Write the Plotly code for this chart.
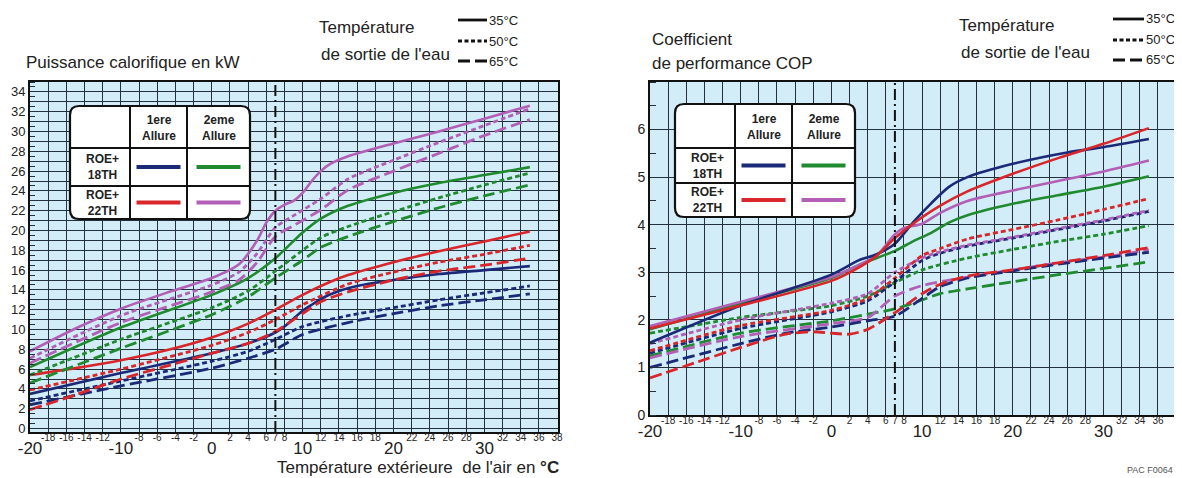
import plotly.graph_objects as go

SCREEN_W, SCREEN_H = 1182, 478
OFF = 8  # default page body margin: figure is drawn 8px from the top-left corner
FW, FH = SCREEN_W - OFF, SCREEN_H - OFF
FONT = "Liberation Sans, Arial, sans-serif"

# ---------------- DATA ----------------
# Left chart : Puissance calorifique (kW) vs outside air temperature
# navy = ROE+18TH 1ere allure, green = ROE+18TH 2eme, red = ROE+22TH 1ere, purple = ROE+22TH 2eme
# 35 = solid, 50 = dotted, 65 = dashed (water outlet temperature)
PUI_N35_X = [-20, -10, 0, 4, 7, 8, 9, 10, 11, 12, 14, 16, 20, 25, 30, 35]
PUI_N35_Y = [3.5, 5.6, 7.6, 8.6, 9.7, 10.3, 11.1, 11.9, 12.5, 13.1, 13.9, 14.4, 15.0, 15.6, 16.0, 16.4]
PUI_N50_X = [-20, -10, 0, 4, 7, 10, 15, 20, 25, 30, 35]
PUI_N50_Y = [2.8, 4.8, 6.8, 7.8, 9.0, 10.3, 11.4, 12.2, 13.0, 13.7, 14.4]
PUI_N65_X = [-20, -10, 0, 4, 7, 10, 15, 20, 25, 30, 35]
PUI_N65_Y = [2.4, 4.3, 6.1, 7.1, 8.0, 9.5, 10.7, 11.6, 12.4, 13.0, 13.6]

PUI_R35_X = [-20, -15, -10, -5, 0, 4, 7, 10, 13, 15, 20, 25, 30, 35]
PUI_R35_Y = [5.4, 6.1, 6.9, 7.9, 9.2, 10.6, 12.0, 13.5, 14.8, 15.5, 16.8, 17.9, 18.9, 19.9]
PUI_R50_X = [-20, -10, 0, 4, 7, 10, 15, 20, 25, 30, 35]
PUI_R50_Y = [3.9, 6.0, 8.4, 9.7, 11.0, 12.5, 14.6, 15.8, 16.8, 17.6, 18.5]
PUI_R65_X = [-20, -15, -10, -5, 0, 4, 7, 10, 12, 15, 20, 25, 30, 35]
PUI_R65_Y = [1.9, 3.4, 5.0, 6.3, 7.6, 8.6, 9.8, 11.6, 12.8, 13.8, 15.0, 15.9, 16.5, 17.2]

PUI_G35_X = [-20, -10, 0, 4, 7, 10, 12, 15, 20, 25, 30, 35]
PUI_G35_Y = [6.2, 10.2, 13.5, 15.2, 17.2, 19.8, 21.2, 22.5, 23.8, 24.8, 25.6, 26.4]
PUI_G50_X = [-20, -10, 0, 4, 7, 10, 12, 15, 20, 25, 30, 35]
PUI_G50_Y = [5.4, 9.0, 12.2, 13.9, 15.9, 18.0, 19.3, 20.4, 21.9, 23.3, 24.6, 25.8]
PUI_G65_X = [-20, -10, 0, 4, 7, 10, 12, 15, 20, 25, 30, 35]
PUI_G65_Y = [4.6, 8.1, 11.5, 13.3, 15.2, 17.0, 18.3, 19.4, 20.9, 22.3, 23.5, 24.6]

PUI_P35_X = [-20, -15, -10, -5, 0, 3, 5, 6, 7, 8, 9, 10, 11, 12, 13, 15, 20, 25, 30, 35]
PUI_P35_Y = [7.8, 10.1, 12.1, 13.7, 15.2, 16.6, 19.0, 20.8, 22.0, 22.6, 23.0, 23.8, 25.0, 26.0, 26.7, 27.5, 28.8, 30.0, 31.3, 32.6]
PUI_P50_X = [-20, -10, 0, 3, 5, 7, 9, 12, 15, 20, 25, 30, 35]
PUI_P50_Y = [7.1, 11.4, 14.5, 15.8, 17.7, 20.3, 21.5, 23.2, 25.2, 27.1, 28.9, 30.6, 32.3]
PUI_P65_X = [-20, -10, 0, 3, 5, 7, 9, 12, 15, 20, 25, 30, 35]
PUI_P65_Y = [6.6, 10.7, 13.8, 15.0, 16.8, 19.4, 20.5, 22.1, 24.1, 26.0, 27.8, 29.6, 31.2]

# Right chart : COP
COP_N35_X = [-20, -10, 0, 3, 5, 7, 9, 11, 13, 15, 20, 26, 30, 35]
COP_N35_Y = [1.52, 2.3, 2.95, 3.25, 3.38, 3.6, 4.05, 4.45, 4.8, 5.0, 5.28, 5.52, 5.63, 5.8]
COP_N50_X = [-20, -10, 0, 4, 7, 10, 12, 15, 20, 25, 30, 35]
COP_N50_Y = [1.3, 1.82, 2.17, 2.4, 2.8, 3.25, 3.4, 3.55, 3.72, 3.9, 4.08, 4.28]
COP_N65_X = [-20, -10, -5, 0, 4, 7, 10, 12, 15, 20, 25, 30, 35]
COP_N65_Y = [1.0, 1.5, 1.72, 1.85, 1.98, 2.08, 2.45, 2.7, 2.88, 3.03, 3.17, 3.3, 3.42]

COP_R35_X = [-20, -10, 0, 3, 5, 7, 9, 12, 15, 20, 25, 30, 35]
COP_R35_Y = [1.82, 2.3, 2.82, 3.1, 3.35, 3.72, 4.02, 4.4, 4.7, 5.07, 5.4, 5.7, 6.03]
COP_R50_X = [-20, -10, 0, 4, 7, 10, 12, 15, 20, 25, 30, 35]
COP_R50_Y = [1.35, 1.88, 2.2, 2.45, 2.88, 3.35, 3.5, 3.7, 3.9, 4.1, 4.32, 4.55]
COP_R65_X = [-20, -15, -10, -5, -2, 0, 2, 4, 7, 10, 12, 15, 20, 25, 30, 35]
COP_R65_Y = [0.78, 1.1, 1.42, 1.7, 1.75, 1.72, 1.7, 1.8, 2.15, 2.55, 2.75, 2.92, 3.05, 3.2, 3.35, 3.52]

COP_G35_X = [-20, -10, 0, 3, 5, 7, 9, 11, 13, 15, 20, 25, 30, 35]
COP_G35_Y = [1.8, 2.35, 2.88, 3.15, 3.3, 3.45, 3.65, 3.83, 4.05, 4.2, 4.44, 4.62, 4.8, 5.02]
COP_G50_X = [-20, -10, 0, 4, 7, 10, 15, 20, 25, 30, 35]
COP_G50_Y = [1.72, 2.05, 2.3, 2.5, 2.78, 3.05, 3.3, 3.48, 3.65, 3.8, 3.98]
COP_G65_X = [-20, -10, 0, 4, 7, 10, 12, 15, 20, 25, 30, 35]
COP_G65_Y = [1.24, 1.72, 1.98, 2.12, 2.23, 2.42, 2.55, 2.65, 2.8, 2.95, 3.08, 3.22]

COP_P35_X = [-20, -10, 0, 3, 5, 7, 8, 10, 12, 15, 20, 25, 30, 35]
COP_P35_Y = [1.87, 2.38, 2.9, 3.15, 3.35, 3.8, 3.93, 4.02, 4.25, 4.5, 4.72, 4.92, 5.12, 5.35]
COP_P50_X = [-20, -10, 0, 4, 7, 10, 12, 15, 20, 25, 30, 35]
COP_P50_Y = [1.5, 2.0, 2.35, 2.55, 3.0, 3.3, 3.43, 3.57, 3.74, 3.92, 4.1, 4.3]
COP_P65_X = [-20, -10, 0, 4, 7, 10, 15, 20, 25, 30, 35]
COP_P65_Y = [1.2, 1.65, 1.92, 2.05, 2.5, 2.72, 2.9, 3.05, 3.2, 3.32, 3.47]

# Axes / ticks
X_RANGE = [-20, 38.1]
X_GRID = list(range(-20, 40, 2))
X_MAJOR_VALS = [-20, -10, 0, 10, 20, 30]
X_MAJOR_TEXT = ["-20", "-10", "0", "10", "20", "30"]
X_MINOR_VALS = [-18, -16, -14, -12, -8, -6, -4, -2, 2, 4, 6, 7, 8, 12, 14, 16, 18,
                22, 24, 26, 28, 32, 34, 36, 38]
X_MINOR_TEXT = ["-18", "-16", "-14", "-12", "-8", "-6", "-4", "-2", "2", "4", "6", "7", "8",
                "12", "14", "16", "18", "22", "24", "26", "28", "32", "34", "36", "38"]
Y_LEFT_RANGE = [-0.35, 35]
Y_LEFT_GRID = list(range(0, 35))
Y_LEFT_LABELS = [0, 2, 4, 6, 8, 10, 12, 14, 16, 18, 20, 22, 24, 26, 28, 30, 32, 34]
Y_RIGHT_RANGE = [0, 7]
Y_RIGHT_LABELS = [0, 1, 2, 3, 4, 5, 6]
REF_TEMP = 7  # dash-dot reference line

NAVY, GREEN, RED, PURPLE = "#1b2a78", "#1f8a2e", "#d8262b", "#b35fb5"
BG = "#d2ecf8"
GRID = "#23313f"
DASH35, DASH50, DASH65 = "solid", "5px,3px", "12px,5px"

# ---------------- FIGURE ----------------
fig = go.Figure()


def curve(xs, ys, color, dash, xa, ya):
    fig.add_trace(go.Scatter(
        x=xs, y=ys, mode="lines", xaxis=xa, yaxis=ya, showlegend=False, hoverinfo="skip",
        line=dict(color=color, width=2.6 if dash == DASH35 else 2.8, dash=dash,
                  shape="spline", smoothing=0.7)))


left = [
    (PUI_N65_X, PUI_N65_Y, NAVY, DASH65), (PUI_N50_X, PUI_N50_Y, NAVY, DASH50), (PUI_N35_X, PUI_N35_Y, NAVY, DASH35),
    (PUI_R65_X, PUI_R65_Y, RED, DASH65), (PUI_R50_X, PUI_R50_Y, RED, DASH50), (PUI_R35_X, PUI_R35_Y, RED, DASH35),
    (PUI_G65_X, PUI_G65_Y, GREEN, DASH65), (PUI_G50_X, PUI_G50_Y, GREEN, DASH50), (PUI_G35_X, PUI_G35_Y, GREEN, DASH35),
    (PUI_P65_X, PUI_P65_Y, PURPLE, DASH65), (PUI_P50_X, PUI_P50_Y, PURPLE, DASH50), (PUI_P35_X, PUI_P35_Y, PURPLE, DASH35),
]
right = [
    (COP_G65_X, COP_G65_Y, GREEN, DASH65), (COP_P65_X, COP_P65_Y, PURPLE, DASH65),
    (COP_N65_X, COP_N65_Y, NAVY, DASH65), (COP_R65_X, COP_R65_Y, RED, DASH65),
    (COP_G50_X, COP_G50_Y, GREEN, DASH50), (COP_N50_X, COP_N50_Y, NAVY, DASH50),
    (COP_P50_X, COP_P50_Y, PURPLE, DASH50), (COP_R50_X, COP_R50_Y, RED, DASH50),
    (COP_G35_X, COP_G35_Y, GREEN, DASH35), (COP_P35_X, COP_P35_Y, PURPLE, DASH35),
    (COP_N35_X, COP_N35_Y, NAVY, DASH35), (COP_R35_X, COP_R35_Y, RED, DASH35),
]
for xs, ys, c, d in left:
    curve(xs, ys, c, d, "x", "y")
for xs, ys, c, d in right:
    curve(xs, ys, c, d, "x2", "y2")

# dummy traces so the overlay label axes are drawn
for xa, ya in [("x3", "y"), ("x5", "y"), ("x4", "y2"), ("x6", "y2")]:
    fig.add_trace(go.Scatter(x=[0], y=[None], xaxis=xa, yaxis=ya, mode="markers",
                             marker=dict(opacity=0), showlegend=False, hoverinfo="skip"))


def px(x):
    return (x - OFF) / FW


def py(y):
    return 1 - (y - OFF) / FH


# plot area boxes (screen pixels)
L_BOX = (30, 82, 558, 432)
R_BOX = (650, 82, 1177, 415)

grid_x = dict(range=X_RANGE, tickvals=X_GRID, showticklabels=False, showgrid=True,
              gridcolor=GRID, gridwidth=1.3, zeroline=False, showline=True, linecolor="#111",
              linewidth=2, mirror=True, ticks="", automargin=False)


def minor_axis(over, anchor):
    return dict(overlaying=over, anchor=anchor, side="bottom", range=X_RANGE,
                tickvals=X_MINOR_VALS, ticktext=X_MINOR_TEXT, showgrid=False, zeroline=False,
                showline=False, ticks="", tickfont=dict(family=FONT, size=10, color="#222"),
                ticklabelstandoff=-2, automargin=False)


def major_axis(over, anchor):
    return dict(overlaying=over, anchor=anchor, side="bottom", range=X_RANGE,
                tickvals=X_MAJOR_VALS, ticktext=X_MAJOR_TEXT, showgrid=False, zeroline=False,
                showline=False, ticks="", tickfont=dict(family=FONT, size=17, color="#222"),
                ticklabelstandoff=4, automargin=False)


fig.update_layout(
    width=FW, height=FH, autosize=False, margin=dict(l=0, r=0, t=0, b=0, pad=0),
    paper_bgcolor="white", plot_bgcolor=BG, font=dict(family=FONT, color="#222"),
    xaxis=dict(domain=[px(L_BOX[0]), px(L_BOX[2])], anchor="y", **grid_x),
    xaxis2=dict(domain=[px(R_BOX[0]), px(R_BOX[2])], anchor="y2", **grid_x),
    xaxis3=minor_axis("x", "y"),
    xaxis5=major_axis("x", "y"),
    xaxis4=minor_axis("x2", "y2"),
    xaxis6=major_axis("x2", "y2"),
    yaxis=dict(domain=[py(L_BOX[3]), py(L_BOX[1])], anchor="x", range=Y_LEFT_RANGE,
               tickvals=Y_LEFT_GRID,
               ticktext=[str(v) if v in Y_LEFT_LABELS else "" for v in Y_LEFT_GRID],
               showgrid=True, gridcolor=GRID, gridwidth=1.3, zeroline=False,
               showline=True, linecolor="#111", linewidth=2, mirror=True, automargin=False,
               ticks="", tickfont=dict(family=FONT, size=13, color="#222"),
               minor=dict(dtick=0.5, ticks="inside", ticklen=5, tickcolor=GRID, showgrid=False)),
    yaxis2=dict(domain=[py(R_BOX[3]), py(R_BOX[1])], anchor="x2", range=Y_RIGHT_RANGE,
                tickvals=Y_RIGHT_LABELS, ticktext=[str(v) for v in Y_RIGHT_LABELS],
                showgrid=True, gridcolor=GRID, gridwidth=1.3, zeroline=False,
                showline=True, linecolor="#111", linewidth=2, mirror=True, automargin=False,
                ticks="", tickfont=dict(family=FONT, size=14, color="#222"),
                minor=dict(dtick=0.5, ticks="inside", ticklen=6, tickcolor=GRID, showgrid=False)),
)

shapes = []
annotations = []

# reference dash-dot line
for xr, yr in [("x", "y domain"), ("x2", "y2 domain")]:
    shapes.append(dict(type="line", xref=xr, yref=yr, x0=REF_TEMP, x1=REF_TEMP, y0=0, y1=1,
                       line=dict(color="#111", width=2, dash="11px,4px,2px,4px")))


def P(x, y):
    return f"{px(x):.5f},{py(y):.5f}"


def rrect(x0, y0, x1, y1, r):
    return (f"M {P(x0 + r, y0)} L {P(x1 - r, y0)} Q {P(x1, y0)} {P(x1, y0 + r)} "
            f"L {P(x1, y1 - r)} Q {P(x1, y1)} {P(x1 - r, y1)} L {P(x0 + r, y1)} "
            f"Q {P(x0, y1)} {P(x0, y1 - r)} L {P(x0, y0 + r)} Q {P(x0, y0)} {P(x0 + r, y0)} Z")


def text(x, y, s, size, anchor="left", bold=False, color="#222"):
    annotations.append(dict(xref="paper", yref="paper", x=px(x), y=py(y), text=f"<b>{s}</b>" if bold else s,
                            showarrow=False, xanchor=anchor, yanchor="middle", borderpad=0,
                            font=dict(family=FONT, size=size, color=color)))


def table(x0, y0, c1, c2, x1, r1, r2, y1):
    shapes.append(dict(type="path", xref="paper", yref="paper", path=rrect(x0, y0, x1, y1, 9),
                       fillcolor="white", line=dict(color="#111", width=2.2), layer="above"))
    for cx in (c1, c2):
        shapes.append(dict(type="line", xref="paper", yref="paper", x0=px(cx), x1=px(cx), y0=py(y0), y1=py(y1),
                           line=dict(color="#111", width=2), layer="above"))
    for ry in (r1, r2):
        shapes.append(dict(type="line", xref="paper", yref="paper", x0=px(x0), x1=px(x1), y0=py(ry), y1=py(ry),
                           line=dict(color="#111", width=2), layer="above"))
    text((c1 + c2) / 2, (y0 + r1) / 2 + 1, "1ere<br>Allure", 12, "center", True)
    text((c2 + x1) / 2, (y0 + r1) / 2 + 1, "2eme<br>Allure", 12, "center", True)
    text((x0 + c1) / 2 + 2, (r1 + r2) / 2, "ROE+<br>18TH", 12, "center", True)
    text((x0 + c1) / 2 + 2, (r2 + y1) / 2, "ROE+<br>22TH", 12, "center", True)
    for (cxa, cxb), (rya, ryb), col in [((c1, c2), (r1, r2), NAVY), ((c2, x1), (r1, r2), GREEN),
                                        ((c1, c2), (r2, y1), RED), ((c2, x1), (r2, y1), PURPLE)]:
        mx, my = (cxa + cxb) / 2, (rya + ryb) / 2
        shapes.append(dict(type="line", xref="paper", yref="paper", x0=px(mx - 22), x1=px(mx + 22),
                           y0=py(my), y1=py(my), line=dict(color=col, width=4), layer="above"))


table(70, 106, 130, 187, 250, 148, 186, 219)
table(675, 104, 735, 792, 855, 148, 183, 217)


def style_legend(x0, x1, ys):
    for yv, d, lab in zip(ys, [DASH35, DASH50, DASH65], ["35°C", "50°C", "65°C"]):
        shapes.append(dict(type="line", xref="paper", yref="paper", x0=px(x0), x1=px(x1), y0=py(yv), y1=py(yv),
                           line=dict(color="#111", width=2.8, dash=d if d != DASH50 else "4px,2.5px")))
        text(x1 + 1, yv, lab, 13)


style_legend(458, 487, [20, 41, 61])
style_legend(1113, 1144, [19, 40, 60])

# titles
text(25, 62, "Puissance calorifique en kW", 17)
text(318, 27, "Température", 17)
text(320, 54, "de sortie de l'eau", 17)
text(651, 40, "Coefficient", 17)
text(651, 64, "de performance COP", 17)
text(958, 26, "Température", 17)
text(960, 52, "de sortie de l'eau", 17)
text(560, 467, "Température extérieure  de l'air en <b>°C</b>", 17, "right")
text(1174, 470, "PAC F0064", 9, "right", color="#555")

fig.update_layout(shapes=shapes, annotations=annotations)
fig.write_html("out.html")
